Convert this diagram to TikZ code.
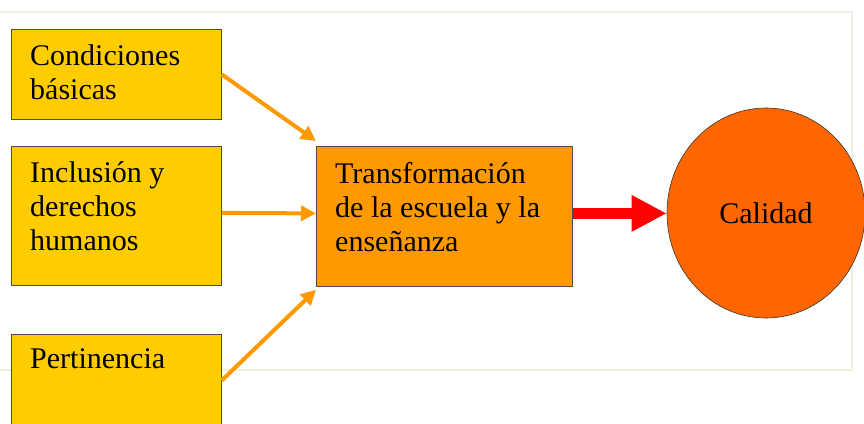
\documentclass[tikz,border=0pt]{standalone}
\usepackage{fontspec}
\setmainfont{LiberationSerif}[Extension=.ttf, UprightFont=*-Regular]
\usetikzlibrary{arrows.meta,shapes.geometric}

\definecolor{boxyellow}{HTML}{FFCC00}
\definecolor{boxorange}{HTML}{FF9900}
\definecolor{circorange}{HTML}{FF6600}
\definecolor{framegray}{HTML}{EEEEDD}

\begin{document}
\begin{tikzpicture}[x=1pt,y=-1pt,
    box/.style={draw=black!70, line width=0.8pt, rectangle, anchor=north west,
      minimum width=210pt, inner sep=0pt},
    txt/.style={anchor=north west, align=left, inner sep=0pt,
      font=\fontsize{30}{34}\selectfont},
    feed/.style={draw=boxorange, line width=4pt,
      -{Triangle[length=15pt,width=15pt]}}]
  \useasboundingbox (0,0) rectangle (864,423);

  % faint frame
  \draw[framegray, line width=1.5pt] (-5,12) rectangle (852,370);

  \node[box, fill=boxyellow, minimum height=90pt] (cond) at (11,29) {};
  \node[txt] (cond-txt) at (30,44) {Condiciones\\básicas};

  \node[box, fill=boxyellow, minimum height=139pt] (incl) at (11,146) {};
  \node[txt] (incl-txt) at (30,161) {Inclusión y\\derechos\\humanos};

  \node[box, fill=boxyellow, minimum height=100pt] (pert) at (11,334) {};
  \node[txt] (pert-txt) at (30,348) {Pertinencia};

  \node[box, fill=boxorange, minimum width=256pt, minimum height=140pt] (transf) at (316,146) {};
  \node[txt] (transf-txt) at (335,162) {Transformación\\de la escuela y la\\enseñanza};

  \node[ellipse, draw=black!80, line width=0.6pt, fill=circorange,
    minimum width=198pt, minimum height=210pt, inner sep=0pt,
    font=\fontsize{30}{34}\selectfont] (calidad) at (766,213) {Calidad};

  % arrows
  \draw[feed] (cond.east) -- ([yshift=5pt]transf.north west);
  \draw[feed] ([yshift=3pt]incl.east) -- ([yshift=3pt]transf.west);
  \draw[feed] ([yshift=4pt]pert.east) -- ([yshift=-3pt]transf.south west);
  \draw[red, line width=11pt, -{Triangle[length=35pt,width=34pt]}]
    ([yshift=3pt]transf.east) -- ([yshift=3pt]transf.east -| calidad.west);
\end{tikzpicture}
\end{document}
